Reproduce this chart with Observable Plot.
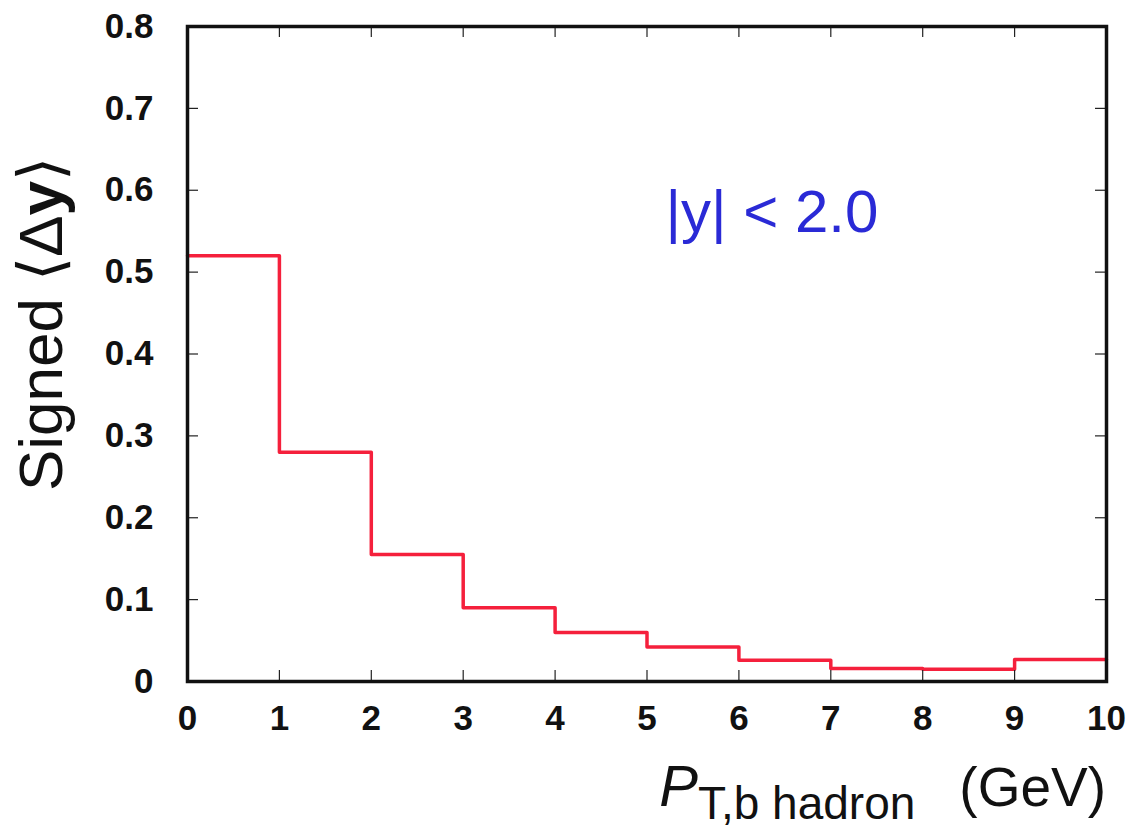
<!DOCTYPE html>
<html><head><meta charset="utf-8">
<script src="https://cdn.jsdelivr.net/npm/d3@7"></script>
<script src="https://cdn.jsdelivr.net/npm/@observablehq/plot@0.6"></script>
<style>body{margin:0;background:#fff}svg{font-family:"Liberation Sans",Arial,sans-serif}</style>
</head><body><div id="chart"></div>
<script>
const binEdges = [0, 1, 2, 3, 4, 5, 6, 7, 8, 9, 10];
const signedDy = [0.52, 0.28, 0.155, 0.09, 0.06, 0.042, 0.026, 0.016, 0.015, 0.027];
const xTicks = [0, 1, 2, 3, 4, 5, 6, 7, 8, 9, 10];
const yTicks = [0, 0.1, 0.2, 0.3, 0.4, 0.5, 0.6, 0.7, 0.8];
const annotationText = ["|y| < 2.0"];
const annotationPos = {x: 5.2, y: 0.572};

const W = 1141, H = 833;
const M = {top: 26, right: 35, bottom: 152, left: 187};
const pw = W - M.left - M.right, ph = H - M.top - M.bottom;
const tick = 11;

// step points: each bin's left edge with its value, plus final right edge
const pts = binEdges.map((e, i) => ({x: e, y: signedDy[Math.min(i, signedDy.length - 1)]}));

const chart = Plot.plot({
  width: W, height: H,
  marginTop: M.top, marginRight: M.right, marginBottom: M.bottom, marginLeft: M.left,
  x: {domain: [0, 10]},
  y: {domain: [0, 0.8]},
  style: {fontFamily: "Liberation Sans, Arial, sans-serif", background: "#fff"},
  marks: [
    Plot.line(pts, {x: "x", y: "y", curve: "step-after", stroke: "#f5203c", strokeWidth: 3.5}),
    // inward ticks
    Plot.tickX(xTicks.slice(1, -1), {x: d => d, stroke: "#222", strokeWidth: 1.2, insetTop: ph - tick}),
    Plot.tickX(xTicks.slice(1, -1), {x: d => d, stroke: "#222", strokeWidth: 1.2, insetBottom: ph - tick}),
    Plot.tickY(yTicks.slice(1, -1), {y: d => d, stroke: "#222", strokeWidth: 1.2, insetRight: pw - tick}),
    Plot.tickY(yTicks.slice(1, -1), {y: d => d, stroke: "#222", strokeWidth: 1.2, insetLeft: pw - tick}),
    Plot.axisX({ticks: xTicks, tickSize: 0, tickPadding: 24, fontSize: 35, fontWeight: "bold", tickFormat: d => String(d), label: null, fill: "#111"}),
    Plot.axisY({ticks: yTicks, tickSize: 0, tickPadding: 34, fontSize: 35, fontWeight: "bold", tickFormat: d => d === 0 ? "0" : d.toFixed(1), label: null, fill: "#111"}),
    Plot.text(annotationText, {x: annotationPos.x, y: annotationPos.y, text: d => d, textAnchor: "start", fontSize: 60, fill: "#2a2ad6"}),
    Plot.frame({stroke: "#111", strokeWidth: 3.5})
  ]
});

const svg = d3.select(chart);
// x-axis title
const xt = svg.append("text")
  .attr("x", 1106).attr("y", 806).attr("text-anchor", "end")
  .attr("fill", "#111").attr("font-family", "Liberation Sans, Arial, sans-serif");
xt.append("tspan").attr("font-style", "italic").attr("font-size", 58).text("P");
xt.append("tspan").attr("font-size", 46).attr("dy", 13).text("T,b hadron");
xt.append("tspan").attr("font-size", 55).attr("dy", -13).attr("dx", 44).text("(GeV)");

// y-axis title
const yt = svg.append("text")
  .attr("transform", "translate(62,324) rotate(-90)")
  .attr("text-anchor", "middle").attr("fill", "#111")
  .attr("font-family", "Liberation Sans, Arial, sans-serif").attr("font-size", 62);
yt.append("tspan").text("Signed ");
yt.append("tspan").text("\u27E8\u0394");
yt.append("tspan").attr("font-weight", "bold").text("y");
yt.append("tspan").text("\u27E9");

document.getElementById("chart").appendChild(chart);
</script>
</body></html>
